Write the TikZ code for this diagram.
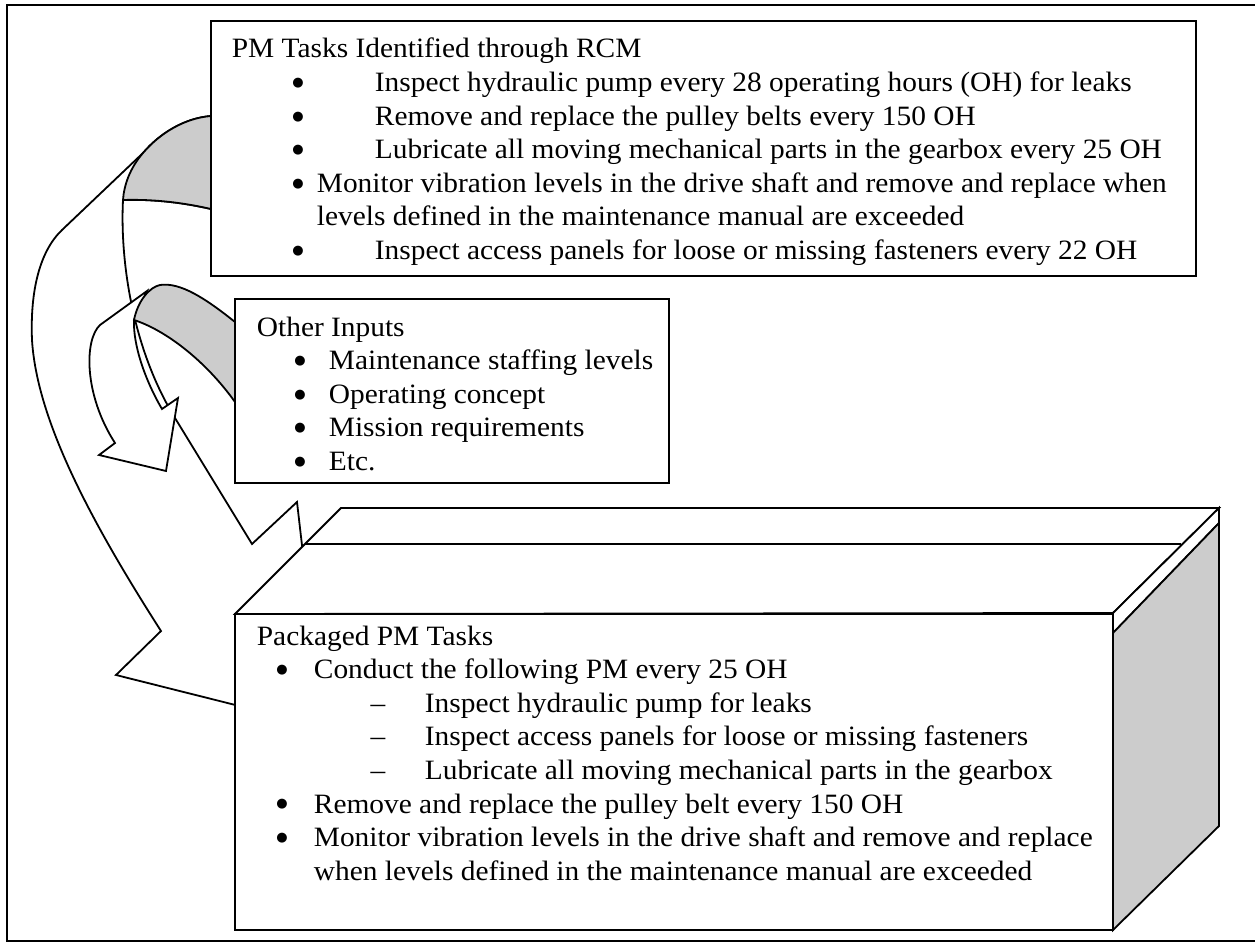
\documentclass[tikz,border=0pt]{standalone}
\usepackage{fontspec}
\setmainfont{Liberation Serif}[FakeStretch=1.05]
\newfontfamily\dejavu{DejaVu Sans}
\definecolor{shade}{RGB}{204,204,204}
\begin{document}
\begin{tikzpicture}[x=0.5pt,y=-0.5pt, line width=0.9pt, line join=miter,
  box/.style={draw, fill=white, inner sep=0pt, outer sep=0pt, anchor=north west},
  txt/.style={inner sep=0pt, font=\fontsize{14pt}{16.8pt}\selectfont, anchor=base west},
  bul/.style={inner sep=0pt, font=\dejavu\fontsize{6.5pt}{7pt}\selectfont, anchor=center, yshift=4.25pt},
  dsh/.style={inner sep=0pt, font=\fontsize{14pt}{16.8pt}\selectfont, anchor=base},
  band/.style={draw, fill=shade},
  wht/.style={draw, fill=white}]
\useasboundingbox (0,0) rectangle (1255,947);
% outer frame
\draw (1255,5) -- (7,5) -- (7,941) -- (1255,941);

% big arrow from RCM box to packaged box
\draw[wht] (211,116) .. controls (185,118) and (160,133) .. (143,153) -- (62,230)
  .. controls (40,251) and (30,290) .. (32,340)
  .. controls (37,420) and (90,520) .. (161,631) -- (116,675) -- (323,727) -- (297,502) -- (252,544)
  -- (175,418) .. controls (132,348) and (120,260) .. (123,200)
  .. controls (155,199) and (185,203) .. (211,209) -- cycle;
\draw[band] (211,116) .. controls (185,118) and (160,133) .. (143,153)
  .. controls (130,168) and (124,185) .. (123,200)
  .. controls (155,199) and (185,203) .. (211,209) -- cycle;

% arrow from other inputs
\draw[wht] (147,291) -- (100,325) .. controls (84,340) and (84,395) .. (115,443) -- (99,455) -- (166,471)
  -- (178,398) -- (162,409) .. controls (145,380) and (133,345) .. (134,320) -- cycle;
\draw[band] (235,322) .. controls (205,298) and (180,282) .. (160,285)
  .. controls (150,287) and (138,300) .. (134,320)
  .. controls (165,330) and (205,360) .. (235,402) -- cycle;

% RCM box
\node[box, minimum width=492.5pt, minimum height=127.5pt] (rcm) at (211,21) {};
\node[txt] (rcmt) at (231,58) {PM Tasks Identified through RCM};
\node[bul] (rb1) at (298,91.6) {●};
\node[txt] (r1) at (374,91.6) {Inspect hydraulic pump every 28 operating hours (OH) for leaks};
\node[bul] (rb2) at (298,125.2) {●};
\node[txt] (r2) at (374,125.2) {Remove and replace the pulley belts every 150 OH};
\node[bul] (rb3) at (298,158.8) {●};
\node[txt] (r3) at (374,158.8) {Lubricate all moving mechanical parts in the gearbox every 25 OH};
\node[bul] (rb4) at (298,192.4) {●};
\node[txt] (r4) at (316,192.4) {Monitor vibration levels in the drive shaft and remove and replace when};
\node[txt] (r4b) at (316,226) {levels defined in the maintenance manual are exceeded};
\node[bul] (rb5) at (298,259.6) {●};
\node[txt] (r5) at (374,259.6) {Inspect access panels for loose or missing fasteners every 22 OH};

% Other inputs box
\node[box, minimum width=217pt, minimum height=92pt] (oth) at (235,299) {};
\node[txt] (otht) at (256,336.5) {Other Inputs};
\node[bul] (ob1) at (300,370) {●};
\node[txt] (o1) at (328,370) {Maintenance staffing levels};
\node[bul] (ob2) at (300,403.5) {●};
\node[txt] (o2) at (328,403.5) {Operating concept};
\node[bul] (ob3) at (300,437) {●};
\node[txt] (o3) at (328,437) {Mission requirements};
\node[bul] (ob4) at (300,470.5) {●};
\node[txt] (o4) at (328,470.5) {Etc.};

% 3D packaged box
\draw[wht] (341,508) -- (1219,508) -- (1113,613) -- (235,614) -- cycle;
\draw (305,544) -- (1181,544);
\draw[wht] (1113,613) -- (1219,508) -- (1219,523) -- (1113,633) -- cycle;
\draw[band] (1113,633) -- (1219,523) -- (1219,826) -- (1113,930) -- cycle;
\node[box, minimum width=439pt, minimum height=158pt] (pkg) at (235,614) {};
\node[txt] (pkgt) at (256,645) {Packaged PM Tasks};
\node[bul] (pb1) at (282,678.6) {●};
\node[txt] (p1) at (313,678.6) {Conduct the following PM every 25 OH};
\node[dsh] (pd1) at (378,712.2) {–};
\node[txt] (p1a) at (424,712.2) {Inspect hydraulic pump for leaks};
\node[dsh] (pd2) at (378,745.8) {–};
\node[txt] (p1b) at (424,745.8) {Inspect access panels for loose or missing fasteners};
\node[dsh] (pd3) at (378,779.4) {–};
\node[txt] (p1c) at (424,779.4) {Lubricate all moving mechanical parts in the gearbox};
\node[bul] (pb2) at (282,813) {●};
\node[txt] (p2) at (313,813) {Remove and replace the pulley belt every 150 OH};
\node[bul] (pb3) at (282,846.6) {●};
\node[txt] (p3) at (313,846.6) {Monitor vibration levels in the drive shaft and remove and replace};
\node[txt] (p3b) at (313,880.2) {when levels defined in the maintenance manual are exceeded};
\end{tikzpicture}
\end{document}
